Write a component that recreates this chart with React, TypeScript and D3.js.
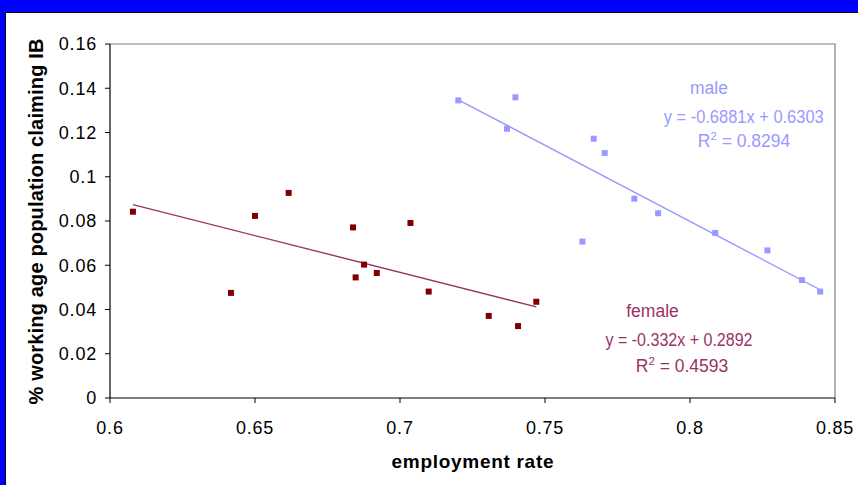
import React from "react";
import * as d3 from "d3";

// Employment rate vs share of working-age population claiming Incapacity Benefit
const femaleRate = [0.6079, 0.6417, 0.650, 0.6616, 0.6838, 0.6847, 0.6876, 0.6920, 0.7036, 0.7099, 0.7306, 0.7407, 0.7470];
const femaleClaim = [0.0842, 0.0475, 0.0823, 0.0927, 0.0771, 0.0545, 0.0603, 0.0565, 0.0791, 0.0481, 0.0371, 0.0325, 0.0435];

const maleRate = [0.7201, 0.7398, 0.7369, 0.7668, 0.7706, 0.7629, 0.7808, 0.7890, 0.8087, 0.8267, 0.8386, 0.8449];
const maleClaim = [0.1345, 0.1359, 0.1217, 0.1172, 0.1107, 0.0707, 0.0901, 0.0835, 0.0746, 0.0667, 0.0533, 0.0481];

// Linear trend fits: [slope, intercept, R²]
const femaleFit = [-0.332, 0.2892, 0.4593];
const maleFit = [-0.6881, 0.6303, 0.8294];

const xTicks = [0.6, 0.65, 0.7, 0.75, 0.8, 0.85];
const yTicks = [0, 0.02, 0.04, 0.06, 0.08, 0.1, 0.12, 0.14, 0.16];

const W = 858;
const H = 485;
const plot = { left: 110, top: 44, right: 835, bottom: 398 };

const FEMALE_MARK = "#800000";
const FEMALE_LINE = "#993366";
const MALE = "#9999FF";
const FONT = "Arial, 'Liberation Sans', sans-serif";

const x = d3.scaleLinear().domain([0.6, 0.85]).range([plot.left, plot.right]);
const y = d3.scaleLinear().domain([0, 0.16]).range([plot.bottom, plot.top]);

function trendPath(xs: number[], fit: number[]) {
  const [m, b] = fit;
  const ext = d3.extent(xs) as [number, number];
  return d3
    .line<number>()
    .x((v) => x(v))
    .y((v) => y(m * v + b))(ext) as string;
}

function fmtTick(v: number) {
  return v === 0 ? "0" : String(+v.toFixed(2));
}

function FitLabel(props: {
  name: string;
  fit: number[];
  color: string;
  cx: [number, number, number];
  ys: [number, number, number];
  eqLen: number;
}) {
  const { name, fit, color, cx, ys, eqLen } = props;
  const [m, b, r2] = fit;
  const eq = `y = ${m}x + ${b}`;
  return (
    <g fill={color} fontFamily={FONT} fontSize={17.5} textAnchor="middle">
      <text x={cx[0]} y={ys[0]}>{name}</text>
      <text x={cx[1]} y={ys[1]} textLength={eqLen} lengthAdjust="spacingAndGlyphs">{eq}</text>
      <text x={cx[2]} y={ys[2]}>
        R<tspan fontSize={11.5} dy={-7}>2</tspan>
        <tspan dy={7}> = {r2}</tspan>
      </text>
    </g>
  );
}

export default function App() {
  const femalePts = femaleRate.map((r, i) => [r, femaleClaim[i]]);
  const malePts = maleRate.map((r, i) => [r, maleClaim[i]]);
  const s = 6;
  return (
    <svg
      width={W}
      height={H}
      style={{ position: "absolute", left: 0, top: 0, display: "block" }}
    >
      <rect x={0} y={0} width={W} height={H} fill="#0000FF" />
      <rect x={5.5} y={12.5} width={W} height={H} fill="#FFFFFF" stroke="#000" strokeWidth={1} />

      {/* plot frame */}
      <path
        d={`M${plot.left},${plot.top}H${plot.right}V${plot.bottom}`}
        fill="none"
        stroke="#808080"
        strokeWidth={1.2}
      />

      {/* y axis */}
      <line x1={plot.left} x2={plot.left} y1={plot.top} y2={plot.bottom} stroke="#000" strokeWidth={1.2} />
      {yTicks.map((t) => (
        <g key={"y" + t}>
          <line x1={plot.left - 5} x2={plot.left} y1={y(t)} y2={y(t)} stroke="#000" />
          <text
            x={97}
            y={y(t)}
            dy="0.36em"
            textAnchor="end"
            fontFamily={FONT}
            fontSize={18}
            letterSpacing={0.8}
          >
            {fmtTick(t)}
          </text>
        </g>
      ))}

      {/* x axis */}
      <line x1={plot.left} x2={plot.right} y1={plot.bottom} y2={plot.bottom} stroke="#000" strokeWidth={1.2} />
      {xTicks.map((t) => (
        <g key={"x" + t}>
          <line x1={x(t)} x2={x(t)} y1={plot.bottom} y2={plot.bottom + 5} stroke="#000" />
          <text
            x={x(t)}
            y={433.5}
            textAnchor="middle"
            fontFamily={FONT}
            fontSize={18}
            letterSpacing={0.8}
          >
            {fmtTick(t)}
          </text>
        </g>
      ))}

      {/* axis titles */}
      <text
        x={472.5}
        y={468}
        textAnchor="middle"
        fontFamily={FONT}
        fontWeight="bold"
        fontSize={19}
        textLength={162}
        lengthAdjust="spacing"
      >
        employment rate
      </text>
      <text
        transform={`translate(42.5,221.5) rotate(-90)`}
        textAnchor="middle"
        fontFamily={FONT}
        fontWeight="bold"
        fontSize={20}
        textLength={366}
        lengthAdjust="spacing"
      >
        % working age population claiming IB
      </text>

      {/* trend lines */}
      <path d={trendPath(femaleRate, femaleFit)} stroke={FEMALE_LINE} strokeWidth={1.4} fill="none" />
      <path d={trendPath(maleRate, maleFit)} stroke={MALE} strokeWidth={1.4} fill="none" />

      {/* markers */}
      {femalePts.map(([a, b], i) => (
        <rect key={"f" + i} x={x(a) - s / 2} y={y(b) - s / 2} width={s} height={s} fill={FEMALE_MARK} />
      ))}
      {malePts.map(([a, b], i) => (
        <rect key={"m" + i} x={x(a) - s / 2} y={y(b) - s / 2} width={s} height={s} fill={MALE} />
      ))}

      <FitLabel
        name="male"
        fit={maleFit}
        color={MALE}
        cx={[709, 743.7, 744]}
        ys={[93.5, 123.3, 147.3]}
        eqLen={160}
      />
      <FitLabel
        name="female"
        fit={femaleFit}
        color={FEMALE_LINE}
        cx={[652.5, 679, 682]}
        ys={[317.3, 346, 371.7]}
        eqLen={147}
      />
    </svg>
  );
}
